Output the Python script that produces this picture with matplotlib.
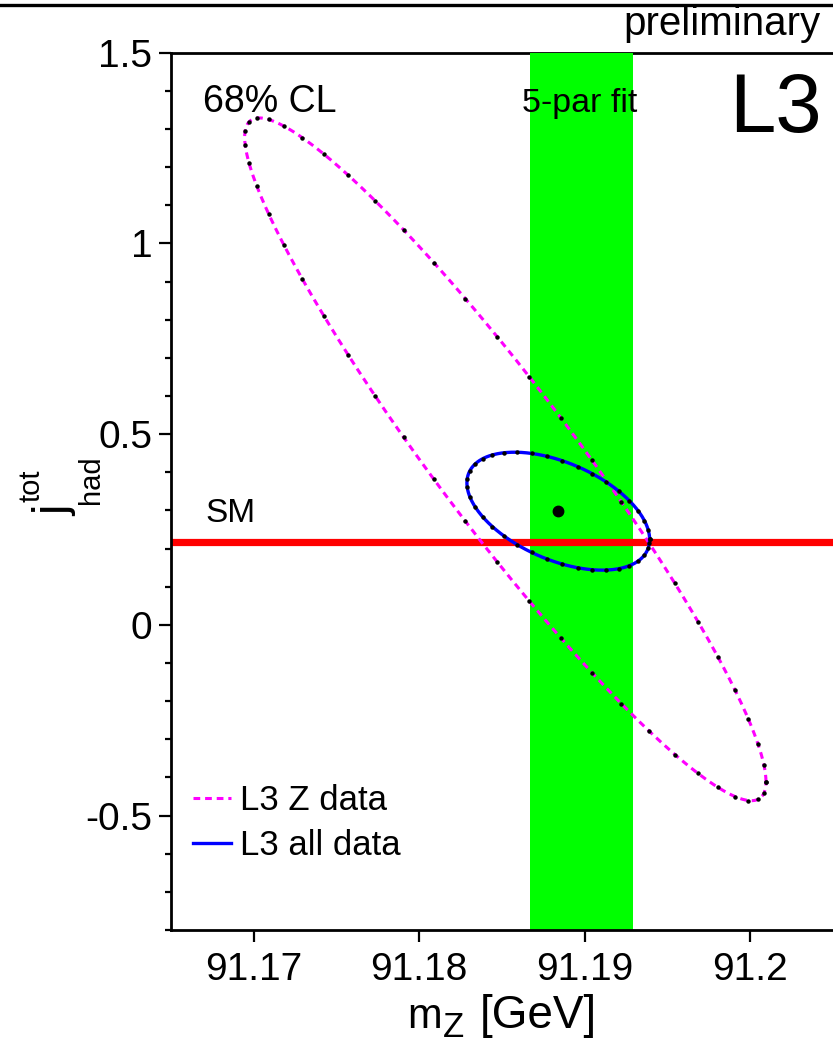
import numpy as np
import matplotlib
matplotlib.use("Agg")
import matplotlib.pyplot as plt
from matplotlib.lines import Line2D

plt.rcParams['font.family'] = ['Liberation Sans', 'DejaVu Sans']

# 68% CL contours in the (mZ, j_had^tot) plane:
# centre, half-extent along each axis and correlation coefficient
z_data_center = (91.1852, 0.434)
z_data_half = (0.01575, 0.895)
z_data_rho = -0.944

all_data_center = (91.1884, 0.298)
all_data_half = (0.00552, 0.1546)
all_data_rho = -0.48

# best fit point of the combined fit
best_fit = (91.1884, 0.298)

# 5-parameter fit of mZ (value, error)
mz_5par = 91.1898
mz_5par_err = 0.0031

# Standard Model expectation for j_had^tot
j_sm = 0.217

x_ticks = [91.17, 91.18, 91.19, 91.20]
x_tick_labels = ['91.17', '91.18', '91.19', '91.2']
y_ticks = [-0.5, 0.0, 0.5, 1.0, 1.5]
y_tick_labels = ['-0.5', '0', '0.5', '1', '1.5']
x_range = (91.165, 91.205)
y_range = (-0.8, 1.5)

W, H = 833, 1044


def contour(center, half, rho, n):
    t = np.linspace(0.0, 2.0 * np.pi, n)
    delta = np.arccos(rho)
    x = center[0] + half[0] * np.cos(t)
    y = center[1] + half[1] * np.cos(t - delta)
    return x, y


def px(x, y):
    """pixel position (from top-left) to figure fraction"""
    return x / W, 1 - y / H


fig = plt.figure(figsize=(W / 100, H / 100), dpi=100)
ax = fig.add_axes([171 / W, 114 / H, 662 / W, 877.3 / H])

ax.set_xlim(*x_range)
ax.set_ylim(*y_range)

# 5-par fit band
ax.axvspan(mz_5par - mz_5par_err, mz_5par + mz_5par_err,
           color='#00ff00', lw=0, zorder=1)
ax.text(mz_5par - 0.0001, 0.9324, '5-par fit',
        transform=ax.get_xaxis_transform(),
        ha='center', va='baseline', fontsize=24.5, zorder=6,
        family=['Liberation Sans Narrow', 'Liberation Sans'])

# SM line
ax.axhline(j_sm, color='#ff0000', lw=5.2, zorder=2)
ax.text(0.052, (930 - 522) / 877.3, 'SM', transform=ax.transAxes,
        ha='left', va='baseline', fontsize=24)

# contours
xz, yz = contour(z_data_center, z_data_half, z_data_rho, 400)
ax.plot(xz, yz, color='#ff00ff', lw=2.2, ls=(0, (2.2, 1.6)), zorder=4,
        label='L3 Z data')
xd, yd = contour(z_data_center, z_data_half, z_data_rho, 52)
ax.plot(xd, yd, ls='none', marker='o', ms=2.2, mfc='black', mec='black',
        zorder=5)

xa, ya = contour(all_data_center, all_data_half, all_data_rho, 400)
ax.plot(xa, ya, color='#0000ff', lw=2.4, zorder=4, label='L3 all data')
xd, yd = contour(all_data_center, all_data_half, all_data_rho, 38)
ax.plot(xd, yd, ls='none', marker='o', ms=2.2, mfc='black', mec='black',
        zorder=5)

ax.plot([best_fit[0]], [best_fit[1]], ls='none', marker='o', ms=7.5,
        color='black', zorder=6)

# axis styling
ax.spines['right'].set_visible(False)
for side in ('left', 'bottom', 'top'):
    ax.spines[side].set_linewidth(2.0)
ax.spines['top'].set_zorder(0.5)

ax.set_xticks(x_ticks)
ax.set_xticklabels(x_tick_labels)
ax.set_yticks(y_ticks)
ax.set_yticklabels(y_tick_labels)
ax.set_yticks(np.arange(-0.8, 1.5001, 0.1), minor=True)
ax.tick_params(axis='both', which='major', direction='out', length=8.5,
               width=1.6, labelsize=28)
ax.tick_params(axis='x', which='major', pad=7)
ax.tick_params(axis='y', which='major', pad=5)
ax.tick_params(axis='y', which='minor', direction='out', length=4.5,
               width=1.6)
ax.tick_params(axis='x', which='minor', bottom=False)
ax.tick_params(top=False, right=False)

# x axis title: m_Z [GeV] with a large, lowered subscript
fig.text(*px(407, 1028), 'm', ha='left', va='baseline', fontsize=30)
fig.text(*px(443, 1037), 'Z', ha='left', va='baseline', fontsize=25)
fig.text(*px(480, 1028), '[GeV]', ha='left', va='baseline', fontsize=33)

# y axis title: j^tot_had, rotated
rot = dict(rotation=90, rotation_mode='anchor', ha='left', va='baseline')
fig.text(*px(67, 516), 'j', fontsize=34, **rot)
fig.text(*px(40, 502), 'tot', fontsize=21, **rot)
fig.text(*px(99, 504), 'had', fontsize=21, **rot)

ax.text(0.0483, 0.9324, '68% CL', transform=ax.transAxes,
        ha='left', va='baseline', fontsize=27)
ax.text((822 - 171) / 662, (930 - 132) / 877.3, 'L3', transform=ax.transAxes,
        ha='right', va='baseline', fontsize=60)

leg = ax.legend(loc='lower left', bbox_to_anchor=(-0.004, 0.05),
                frameon=False, fontsize=25, handlelength=1.1,
                handletextpad=0.25, labelspacing=0.34, borderaxespad=0.3)

# frame line and preliminary tag at the top
fig.add_artist(Line2D([0, 1], [1 - 5 / H, 1 - 5 / H], color='black',
                      lw=2.4, transform=fig.transFigure))
fig.text(*px(820, 35), 'preliminary', ha='right', va='baseline',
         fontsize=29, family=['Liberation Sans Narrow', 'Liberation Sans'])

fig.savefig('out.png', dpi=100)
